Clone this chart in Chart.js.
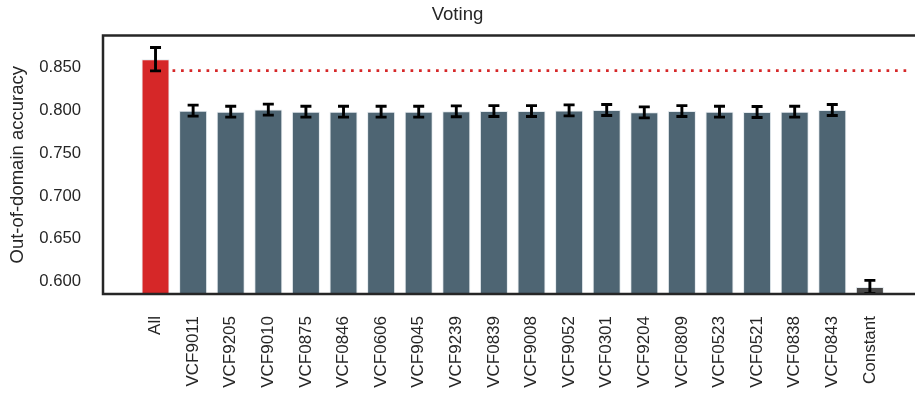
<!DOCTYPE html>
<html>
<head>
<meta charset="utf-8">
<script src="https://cdn.jsdelivr.net/npm/chart.js@4"></script>
<style>
  html, body { margin: 0; padding: 0; background: #fff; }
  #wrap { width: 915px; height: 402px; }
</style>
</head>
<body>
<div id="wrap"><canvas id="votingChart" width="915" height="402"></canvas></div>
<script>
// data
const labels = ['All', 'VCF9011', 'VCF9205', 'VCF9010', 'VCF0875', 'VCF0846', 'VCF0606',
    'VCF9045', 'VCF9239', 'VCF0839', 'VCF9008', 'VCF9052', 'VCF0301', 'VCF9204',
    'VCF0809', 'VCF0523', 'VCF0521', 'VCF0838', 'VCF0843', 'Constant'];
const accuracy = [0.8595, 0.7995, 0.7983, 0.8007, 0.7983, 0.7983, 0.7983, 0.7983, 0.7987, 0.7990,
    0.7990, 0.7998, 0.8002, 0.7975, 0.7990, 0.7983, 0.7979, 0.7983, 0.8002, 0.5940];
const errors = [0.0136, 0.0064, 0.0064, 0.0064, 0.0064, 0.0064, 0.0064, 0.0064, 0.0064, 0.0064,
    0.0064, 0.0064, 0.0064, 0.0064, 0.0064, 0.0064, 0.0064, 0.0064, 0.0064, 0.0076];
const referenceLine = 0.8462;
const yTicks = [0.600, 0.650, 0.700, 0.750, 0.800, 0.850];

const RED = '#d62728';
const SLATE = '#4e6573';
const GREY = '#484848';
const INK = '#262626';
const FONT = '"Liberation Sans", Arial, sans-serif';

const barColors = labels.map((l, i) => i === 0 ? RED : (l === 'Constant' ? GREY : SLATE));

// error bars, dotted reference line and the frame
const extras = {
    id: 'extras',
    afterDatasetsDraw(chart) {
        const ctx = chart.ctx;
        const y = chart.scales.y;
        const area = chart.chartArea;
        const meta = chart.getDatasetMeta(0);

        ctx.save();
        // dotted line
        const first = meta.data[0];
        ctx.strokeStyle = RED;
        ctx.lineWidth = 2.6;
        ctx.setLineDash([2.7, 5.8]);
        ctx.beginPath();
        const ly = y.getPixelForValue(referenceLine);
        ctx.moveTo(first.x + first.width / 2 + 3, ly);
        ctx.lineTo(area.right - 3, ly);
        ctx.stroke();
        ctx.setLineDash([]);

        // error bars
        ctx.strokeStyle = '#000';
        ctx.lineWidth = 2.9;
        meta.data.forEach((bar, i) => {
            const top = y.getPixelForValue(accuracy[i] + errors[i]);
            const bot = y.getPixelForValue(accuracy[i] - errors[i]);
            ctx.beginPath();
            ctx.moveTo(bar.x, top); ctx.lineTo(bar.x, bot);
            ctx.moveTo(bar.x - 5.5, top); ctx.lineTo(bar.x + 5.5, top);
            ctx.moveTo(bar.x - 5.5, bot); ctx.lineTo(bar.x + 5.5, bot);
            ctx.stroke();
        });

        // spines
        ctx.strokeStyle = INK;
        ctx.lineWidth = 2.5;
        ctx.beginPath();
        ctx.moveTo(area.right + 2, area.top);
        ctx.lineTo(area.left, area.top);
        ctx.lineTo(area.left, area.bottom);
        ctx.lineTo(area.right + 2, area.bottom);
        ctx.stroke();
        ctx.restore();
    }
};

new Chart(document.getElementById('votingChart'), {
    type: 'bar',
    data: {
        labels: labels,
        datasets: [{
            data: accuracy.map((v, i) => ({ x: i, y: v })),
            backgroundColor: barColors,
            borderColor: 'rgba(225, 232, 236, 0.9)',
            borderWidth: 1,
            barPercentage: 0.745,
            categoryPercentage: 1
        }]
    },
    options: {
        responsive: false,
        animation: false,
        layout: { padding: { left: 0, right: 0, top: 0, bottom: 0 } },
        plugins: {
            legend: { display: false },
            tooltip: { enabled: false },
            title: {
                display: true,
                text: 'Voting',
                color: INK,
                font: { family: FONT, size: 18.6, weight: 'normal' },
                padding: { top: 4, bottom: 9.2 }
            }
        },
        scales: {
            x: {
                type: 'linear',
                offset: false,
                min: -1.397,
                max: 20.2,
                grid: { display: false, drawTicks: false },
                border: { display: false },
                afterBuildTicks: (scale) => { scale.ticks = labels.map((_, i) => ({ value: i })); },
                afterFit: (scale) => { scale.height = 108; },
                ticks: {
                    autoSkip: false,
                    minRotation: 90,
                    maxRotation: 90,
                    padding: 22,
                    color: INK,
                    font: { family: FONT, size: 17 },
                    callback: (value) => labels[value]
                }
            },
            y: {
                min: 0.5857,
                max: 0.8871,
                grid: { display: false, drawTicks: false },
                border: { display: false },
                afterBuildTicks: (scale) => { scale.ticks = yTicks.map(v => ({ value: v })); },
                afterFit: (scale) => { scale.width = 103; },
                ticks: {
                    padding: 22,
                    color: INK,
                    font: { family: FONT, size: 16.7 },
                    callback: (value) => value.toFixed(3)
                },
                title: {
                    display: true,
                    text: 'Out-of-domain accuracy',
                    color: INK,
                    font: { family: FONT, size: 18.5 },
                    padding: { top: 7, bottom: 0 }
                }
            }
        }
    },
    plugins: [extras]
});
</script>
</body>
</html>
